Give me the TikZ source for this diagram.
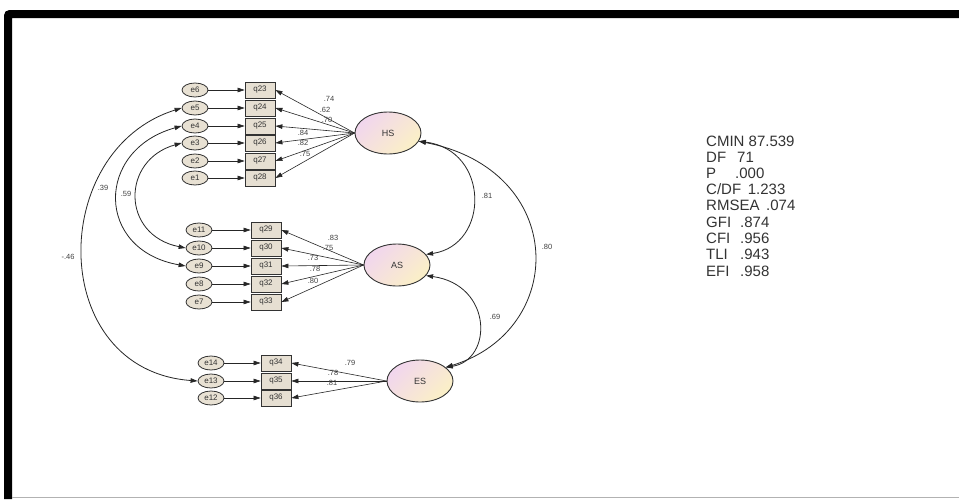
\documentclass[tikz,border=0pt]{standalone}
\usepackage{fontspec}
\setmainfont{Liberation Sans}
\usetikzlibrary{arrows.meta,shapes.geometric}
\definecolor{errfill}{HTML}{E8E1D3}
\definecolor{obsfill}{HTML}{E6DFD2}
\definecolor{latpink}{HTML}{F1D6EE}
\definecolor{latyellow}{HTML}{FBF0C6}
\begin{document}
\begin{tikzpicture}[x=1pt,y=-1pt,
  err/.style={ellipse,draw=black!80,line width=0.8pt,fill=errfill,minimum width=26pt,minimum height=14pt,inner sep=0pt,font=\fontsize{8}{8}\selectfont,text=black!80},
  obs/.style={rectangle,draw=black!80,line width=0.8pt,fill=obsfill,minimum width=30pt,minimum height=16pt,inner sep=0pt,font=\fontsize{8}{8}\selectfont,text=black!80},
  lat/.style={ellipse,draw=black!80,line width=0.9pt,minimum width=66pt,minimum height=42pt,top color=latpink,bottom color=latyellow,shading angle=45,font=\fontsize{9}{9}\selectfont,text=black!80},
  arr/.style={-{Triangle[length=7pt,width=4.5pt]},line width=0.6pt,black!85},
  cov/.style={{Triangle[length=7pt,width=4.5pt]}-{Triangle[length=7pt,width=4.5pt]},line width=0.8pt,black!85},
  lbl/.style={font=\fontsize{7.5}{7.5}\selectfont,inner sep=0pt,text=black!75},
  stat/.style={font=\fontsize{15}{15}\selectfont,inner sep=0pt,anchor=west,text=black!80}]
\fill[white] (0,0) rectangle (959,499);
\useasboundingbox (0,0) rectangle (959,499);
% frame
\draw[line width=8pt,rounded corners=2pt] (8,499) -- (8,14) -- (959,14);
\draw[black!30,line width=1pt] (12,497) -- (959,497);
% latent variables
\node[lat] (HS) at (388,133) {HS};
\node[lat] (AS) at (397,265) {AS};
\node[lat] (ES) at (420,381) {ES};
% HS group
\foreach \e/\q/\y in {6/23/90,5/24/108,4/25/126,3/26/143,2/27/161,1/28/178}{
  \node[err] (e\e) at (195,\y) {e\e};
  \node[obs] (q\q) at (260,\y) {q\q};
  \draw[arr] (e\e) -- (q\q);
  \draw[arr] (HS.west) -- (q\q.east);
}
% AS group
\foreach \e/\q/\y in {11/29/230,10/30/248,9/31/266,8/32/284,7/33/302}{
  \node[err] (e\e) at (199,\y) {e\e};
  \node[obs] (q\q) at (266,\y) {q\q};
  \draw[arr] (e\e) -- (q\q);
  \draw[arr] (AS.west) -- (q\q.east);
}
% ES group
\foreach \e/\q/\y in {14/34/363,13/35/381,12/36/398}{
  \node[err] (e\e) at (211,\y) {e\e};
  \node[obs] (q\q) at (276,\y) {q\q};
  \draw[arr] (e\e) -- (q\q);
  \draw[arr] (ES.west) -- (q\q.east);
}
% loading labels
\node[lbl] (l23) at (329,99) {.74};
\node[lbl] (l24) at (325,110) {.62};
\node[lbl] (l25) at (327,120) {.70};
\node[lbl] (l26) at (303,133) {.84};
\node[lbl] (l27) at (303,143) {.82};
\node[lbl] (l28) at (305,154) {.75};
\node[lbl] (l29) at (333,238) {.83};
\node[lbl] (l30) at (328,248) {.75};
\node[lbl] (l31) at (313,258) {.73};
\node[lbl] (l32) at (315,269) {.78};
\node[lbl] (l33) at (313,281) {.80};
\node[lbl] (l34) at (350,363) {.79};
\node[lbl] (l35) at (333,373) {.78};
\node[lbl] (l36) at (332,383) {.81};
% error covariances
\draw[cov] (e5.west) .. controls (47,150) and (47,370) .. (e13.west);
\draw[cov] (e4.west) .. controls (95,150) and (95,250) .. (e9.west);
\draw[cov] (e3.west) .. controls (121,160) and (121,235) .. (e10.west);
\node[lbl] (c1) at (103,188) {.39};
\node[lbl] (c2) at (126,194) {.59};
\node[lbl] (c3) at (68,257) {-.46};
% latent covariances
\draw[cov] (HS.-15) .. controls (490,150) and (490,245) .. (AS.20);
\draw[cov] (HS.-15) .. controls (568,170) and (568,330) .. (ES.28);
\draw[cov] (AS.-20) .. controls (493,285) and (493,360) .. (ES.28);
\node[lbl] (c4) at (487,196) {.81};
\node[lbl] (c5) at (547,247) {.80};
\node[lbl] (c6) at (495,317) {.69};
% fit statistics
\node[stat] (s1) at (706,141) {CMIN 87.539};
\node[stat] (s2) at (706,157) {\makebox[31pt][l]{DF}71};
\node[stat] (s3) at (706,173) {\makebox[29pt][l]{P}.000};
\node[stat] (s4) at (706,189) {C/DF \,1.233};
\node[stat] (s5) at (706,205) {RMSEA \,.074};
\node[stat] (s6) at (706,222) {\makebox[34pt][l]{GFI}.874};
\node[stat] (s7) at (706,238) {\makebox[34pt][l]{CFI}.956};
\node[stat] (s8) at (706,254) {\makebox[34pt][l]{TLI}.943};
\node[stat] (s9) at (706,271) {\makebox[34pt][l]{EFI}.958};
\end{tikzpicture}
\end{document}
